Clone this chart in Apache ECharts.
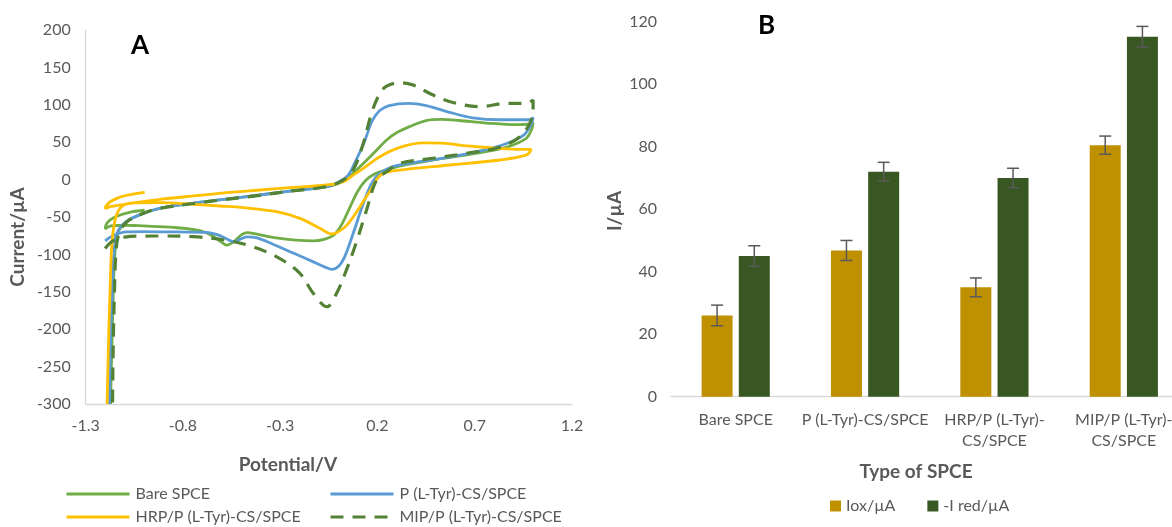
<!DOCTYPE html>
<html>
<head>
<meta charset="utf-8">
<script src="https://cdn.jsdelivr.net/npm/echarts@6/dist/echarts.min.js"></script>
<style>
html,body{margin:0;padding:0;background:#ffffff;}
#c{width:1172px;height:527px;}
</style>
</head>
<body>
<div id="c"></div>
<script>
// ---------- Panel A : cyclic voltammograms, [potential (V), current (µA)] ----------
const bareSPCE = [
  [-0.997,-41],[-1.08,-44],[-1.15,-50],[-1.19,-58],[-1.20,-66],[-1.17,-62],[-1.10,-61],[-1.00,-62],
  [-0.85,-64],[-0.72,-68],[-0.65,-75],[-0.60,-84],[-0.575,-87.5],[-0.54,-83],[-0.50,-74],[-0.47,-71],
  [-0.42,-73],[-0.32,-78],[-0.22,-81],[-0.13,-82],[-0.07,-79.5],[-0.02,-73],[0.02,-58],[0.06,-36],
  [0.10,-15],[0.14,-1],[0.19,8],[0.25,13.5],[0.32,18.5],[0.49,26.5],[0.66,33],[0.83,41],[0.90,46.6],
  [0.967,55.6],[0.992,66.8],[1.00,76],[0.97,74],[0.915,73.4],[0.76,75.6],[0.62,79],[0.53,80.5],
  [0.45,79],[0.366,71],[0.30,63],[0.247,53],[0.19,38],[0.144,26],[0.06,5],[0.00,-5],[-0.06,-9.5],
  [-0.24,-15],[-0.405,-20.6],[-0.58,-26],[-0.75,-31.7],[-0.92,-38.4],[-1.00,-45],[-1.09,-56],
  [-1.135,-72],[-1.15,-100],[-1.158,-150],[-1.163,-200],[-1.168,-250],[-1.172,-300]
];
const pTyrSPCE = [
  [-1.20,-82],[-1.16,-75],[-1.09,-70],[-1.00,-69.5],[-0.83,-70],[-0.68,-70.5],[-0.62,-74],[-0.57,-80],
  [-0.54,-83],[-0.50,-79],[-0.47,-76.5],[-0.42,-78],[-0.34,-86],[-0.23,-98.5],[-0.13,-110],[-0.07,-117],
  [-0.035,-120],[0.00,-116],[0.03,-104],[0.075,-72],[0.127,-32],[0.17,-5],[0.21,8],[0.28,17.5],
  [0.40,23.4],[0.57,30],[0.74,39],[0.86,48],[0.95,59],[0.99,74],[1.00,83],[0.98,80],[0.83,80],
  [0.69,82.5],[0.57,90],[0.45,99],[0.36,102],[0.26,99],[0.21,92],[0.17,77],[0.135,52],[0.09,26],
  [0.05,6],[0.015,-1],[-0.06,-9.5],[-0.24,-15],[-0.405,-20.6],[-0.58,-26],[-0.75,-31.7],[-0.92,-38.4],
  [-1.00,-45],[-1.09,-56],[-1.14,-72],[-1.155,-100],[-1.163,-150],[-1.17,-200],[-1.175,-250],[-1.178,-300]
];
const hrpPTyrSPCE = [
  [-0.997,-17],[-1.06,-19.5],[-1.12,-23],[-1.17,-29],[-1.195,-35],[-1.20,-38.5],[-1.185,-37],[-1.158,-35.5],
  [-1.10,-33],[-1.055,-31],[-0.918,-26.4],[-0.747,-21.9],[-0.576,-17.5],[-0.405,-13.9],[-0.233,-10.3],
  [-0.062,-7.2],[0.024,-2.8],[0.075,6],[0.127,15],[0.212,30.6],[0.315,43],[0.435,49],[0.55,48.5],
  [0.66,45],[0.76,43],[0.915,40.5],[0.99,40.5],[0.967,33],[0.829,26.2],[0.572,19.5],[0.315,12.8],
  [0.229,8.3],[0.195,0],[0.17,-12],[0.13,-28],[0.08,-48],[0.03,-64],[-0.036,-72.7],[-0.096,-65],
  [-0.199,-51.8],[-0.319,-42.9],[-0.49,-37.5],[-0.61,-35.3],[-0.747,-33],[-0.918,-30.8],[-1.04,-31],
  [-1.11,-35],[-1.145,-50],[-1.165,-85],[-1.175,-150],[-1.183,-220],[-1.19,-300]
];
const mipPTyrSPCE = [
  [-1.20,-92],[-1.16,-82],[-1.10,-77],[-1.00,-75.5],[-0.92,-75.4],[-0.75,-76.3],[-0.61,-79.8],[-0.47,-87.4],
  [-0.32,-103],[-0.20,-125],[-0.13,-152],[-0.06,-170],[-0.01,-152],[0.04,-121],[0.09,-85],[0.144,-40.6],
  [0.195,-0.5],[0.247,10.7],[0.315,21.8],[0.486,28.5],[0.657,35.2],[0.829,43.2],[0.932,57.4],[0.983,75.2],
  [1.00,93],[1.00,106.5],[0.966,102],[0.863,102],[0.726,97.6],[0.589,103],[0.486,113],[0.383,126.4],
  [0.315,129.5],[0.247,125],[0.212,115.2],[0.169,88.5],[0.127,48.4],[0.075,12.8],[0.024,-0.6],
  [-0.062,-9.5],[-0.24,-15],[-0.405,-21],[-0.58,-26.5],[-0.747,-32],[-0.918,-38.5],[-1.004,-45],
  [-1.09,-57],[-1.13,-73],[-1.145,-100],[-1.152,-150],[-1.157,-200],[-1.16,-250],[-1.162,-300]
];
const potentialTicks = [-1.3, -0.8, -0.3, 0.2, 0.7, 1.2];

// ---------- Panel B : peak currents ----------
const spceTypes = ['Bare SPCE', 'P (L-Tyr)-CS/SPCE', 'HRP/P (L-Tyr)-CS/SPCE', 'MIP/P (L-Tyr)-CS/SPCE'];
const ioxValues  = [26, 46.8, 35, 80.5];
const iredValues = [45, 72, 70, 115.2];
const ioxErrors  = [3.3, 3.2, 3.0, 2.9];
const iredErrors = [3.3, 3.0, 3.1, 3.3];

// ---------- styling ----------
const FONT = 'Lato';
const GRAY = '#595959';
const AXIS = '#d9d9d9';
const BAR_W = 31;
const BAR_GAP = 0.2;
const BAR_OFF = BAR_W * (1 + BAR_GAP) / 2;

function errorBars(offset) {
  return function (params, api) {
    const v = api.value(1), e = api.value(2);
    const hi = api.coord([api.value(0), v + e]);
    const lo = api.coord([api.value(0), v - e]);
    const x = hi[0] + offset, cap = 6;
    const st = { stroke: '#5a5a5a', lineWidth: 1.5 };
    return { type: 'group', children: [
      { type: 'line', shape: { x1: x, y1: hi[1], x2: x, y2: lo[1] }, style: st },
      { type: 'line', shape: { x1: x - cap, y1: hi[1], x2: x + cap, y2: hi[1] }, style: st },
      { type: 'line', shape: { x1: x - cap, y1: lo[1], x2: x + cap, y2: lo[1] }, style: st }
    ]};
  };
}

function cvSeries(name, data, color, dashed) {
  return {
    type: 'line', name: name, xAxisIndex: 0, yAxisIndex: 0, data: data,
    symbol: 'none', showSymbol: false, smooth: 0.35,
    lineStyle: { color: color, width: dashed ? 3.2 : 2.8, type: dashed ? [13, 9] : 'solid' },
    itemStyle: { color: color }
  };
}

function cvLegend(name, left, top) {
  return {
    data: [name], left: left, top: top, padding: 0,
    itemWidth: 63, itemHeight: 16,
    itemStyle: { opacity: 0 },
    lineStyle: { width: 3 },
    textStyle: { color: GRAY, fontSize: 16, fontFamily: FONT, padding: [0, 0, 0, 1] }
  };
}

const chart = echarts.init(document.getElementById('c'), null, { renderer: 'canvas' });
const option = {
  animation: false,
  backgroundColor: '#ffffff',
  textStyle: { fontFamily: FONT },
  grid: [
    { left: 85.7, top: 30, width: 486.3, height: 374, outerBoundsMode: 'none', containLabel: false },
    { left: 671, top: 21.7, width: 517.5, height: 375, outerBoundsMode: 'none', containLabel: false }
  ],
  xAxis: [
    { type: 'value', gridIndex: 0, min: -1.3, max: 1.2,
      axisLine: { show: true, onZero: false, lineStyle: { color: AXIS, width: 1.3 } },
      axisTick: { show: false }, splitLine: { show: false },
      axisLabel: { customValues: potentialTicks, formatter: v => Number(v).toFixed(1),
                   color: GRAY, fontSize: 16, margin: 14, fontFamily: FONT } },
    { type: 'category', gridIndex: 1, data: spceTypes,
      axisLine: { show: true, lineStyle: { color: AXIS, width: 1.3 } },
      axisTick: { show: false },
      axisLabel: { interval: 0, color: GRAY, fontSize: 16, margin: 13, lineHeight: 21, fontFamily: FONT,
                   formatter: n => n.length > 17 ? n.replace('-CS/', '-\nCS/') : n } }
  ],
  yAxis: [
    { type: 'value', gridIndex: 0, min: -300, max: 200, interval: 50,
      axisLine: { show: true, onZero: false, lineStyle: { color: AXIS, width: 1.3 } },
      axisTick: { show: false }, splitLine: { show: false },
      axisLabel: { color: GRAY, fontSize: 16, margin: 15, fontFamily: FONT } },
    { type: 'value', gridIndex: 1, min: 0, max: 120, interval: 20,
      axisLine: { show: false }, axisTick: { show: false }, splitLine: { show: false },
      axisLabel: { color: GRAY, fontSize: 16, margin: 14, fontFamily: FONT } }
  ],
  legend: [
    cvLegend('Bare SPCE', 65, 486),
    cvLegend('HRP/P (L-Tyr)-CS/SPCE', 65, 509),
    cvLegend('P (L-Tyr)-CS/SPCE', 329, 486),
    cvLegend('MIP/P (L-Tyr)-CS/SPCE', 329, 509),
    { data: ['Iox/µA', '-I red/µA'], orient: 'horizontal', left: 830, top: 498, padding: 0, icon: 'rect',
      itemWidth: 11, itemHeight: 11, itemGap: 32, textStyle: { color: GRAY, fontSize: 16, fontFamily: FONT } }
  ],
  graphic: [
    { type: 'text', left: 131, top: 33, style: { text: 'A', font: 'bold 26px ' + FONT, fill: '#000' } },
    { type: 'text', left: 758, top: 13, style: { text: 'B', font: 'bold 26px ' + FONT, fill: '#000' } },
    { type: 'text', x: 18, y: 237, rotation: Math.PI / 2,
      style: { text: 'Current/µA', font: 'bold 19px ' + FONT, fill: GRAY, align: 'center', verticalAlign: 'middle' } },
    { type: 'text', x: 288, y: 465,
      style: { text: 'Potential/V', font: 'bold 19px ' + FONT, fill: GRAY, align: 'center', verticalAlign: 'middle' } },
    { type: 'text', x: 614.6, y: 211, rotation: Math.PI / 2,
      style: { text: 'I/µA', font: 'bold 19px ' + FONT, fill: GRAY, align: 'center', verticalAlign: 'middle' } },
    { type: 'text', x: 916, y: 472,
      style: { text: 'Type of SPCE', font: 'bold 19px ' + FONT, fill: GRAY, align: 'center', verticalAlign: 'middle' } }
  ],
  series: [
    cvSeries('Bare SPCE', bareSPCE, '#70AD47', false),
    cvSeries('P (L-Tyr)-CS/SPCE', pTyrSPCE, '#5B9BD5', false),
    cvSeries('HRP/P (L-Tyr)-CS/SPCE', hrpPTyrSPCE, '#FFC000', false),
    cvSeries('MIP/P (L-Tyr)-CS/SPCE', mipPTyrSPCE, '#548235', true),
    { type: 'bar', name: 'Iox/µA', xAxisIndex: 1, yAxisIndex: 1, data: ioxValues,
      barWidth: BAR_W, barGap: (BAR_GAP * 100) + '%', itemStyle: { color: '#BF9000' } },
    { type: 'bar', name: '-I red/µA', xAxisIndex: 1, yAxisIndex: 1, data: iredValues,
      barWidth: BAR_W, barGap: (BAR_GAP * 100) + '%', itemStyle: { color: '#385723' } },
    { type: 'custom', name: 'Iox error', xAxisIndex: 1, yAxisIndex: 1, z: 10,
      data: ioxValues.map((v, i) => [i, v, ioxErrors[i]]), renderItem: errorBars(-BAR_OFF) },
    { type: 'custom', name: 'Ired error', xAxisIndex: 1, yAxisIndex: 1, z: 10,
      data: iredValues.map((v, i) => [i, v, iredErrors[i]]), renderItem: errorBars(BAR_OFF) }
  ]
};
chart.setOption(option);
</script>
</body>
</html>
